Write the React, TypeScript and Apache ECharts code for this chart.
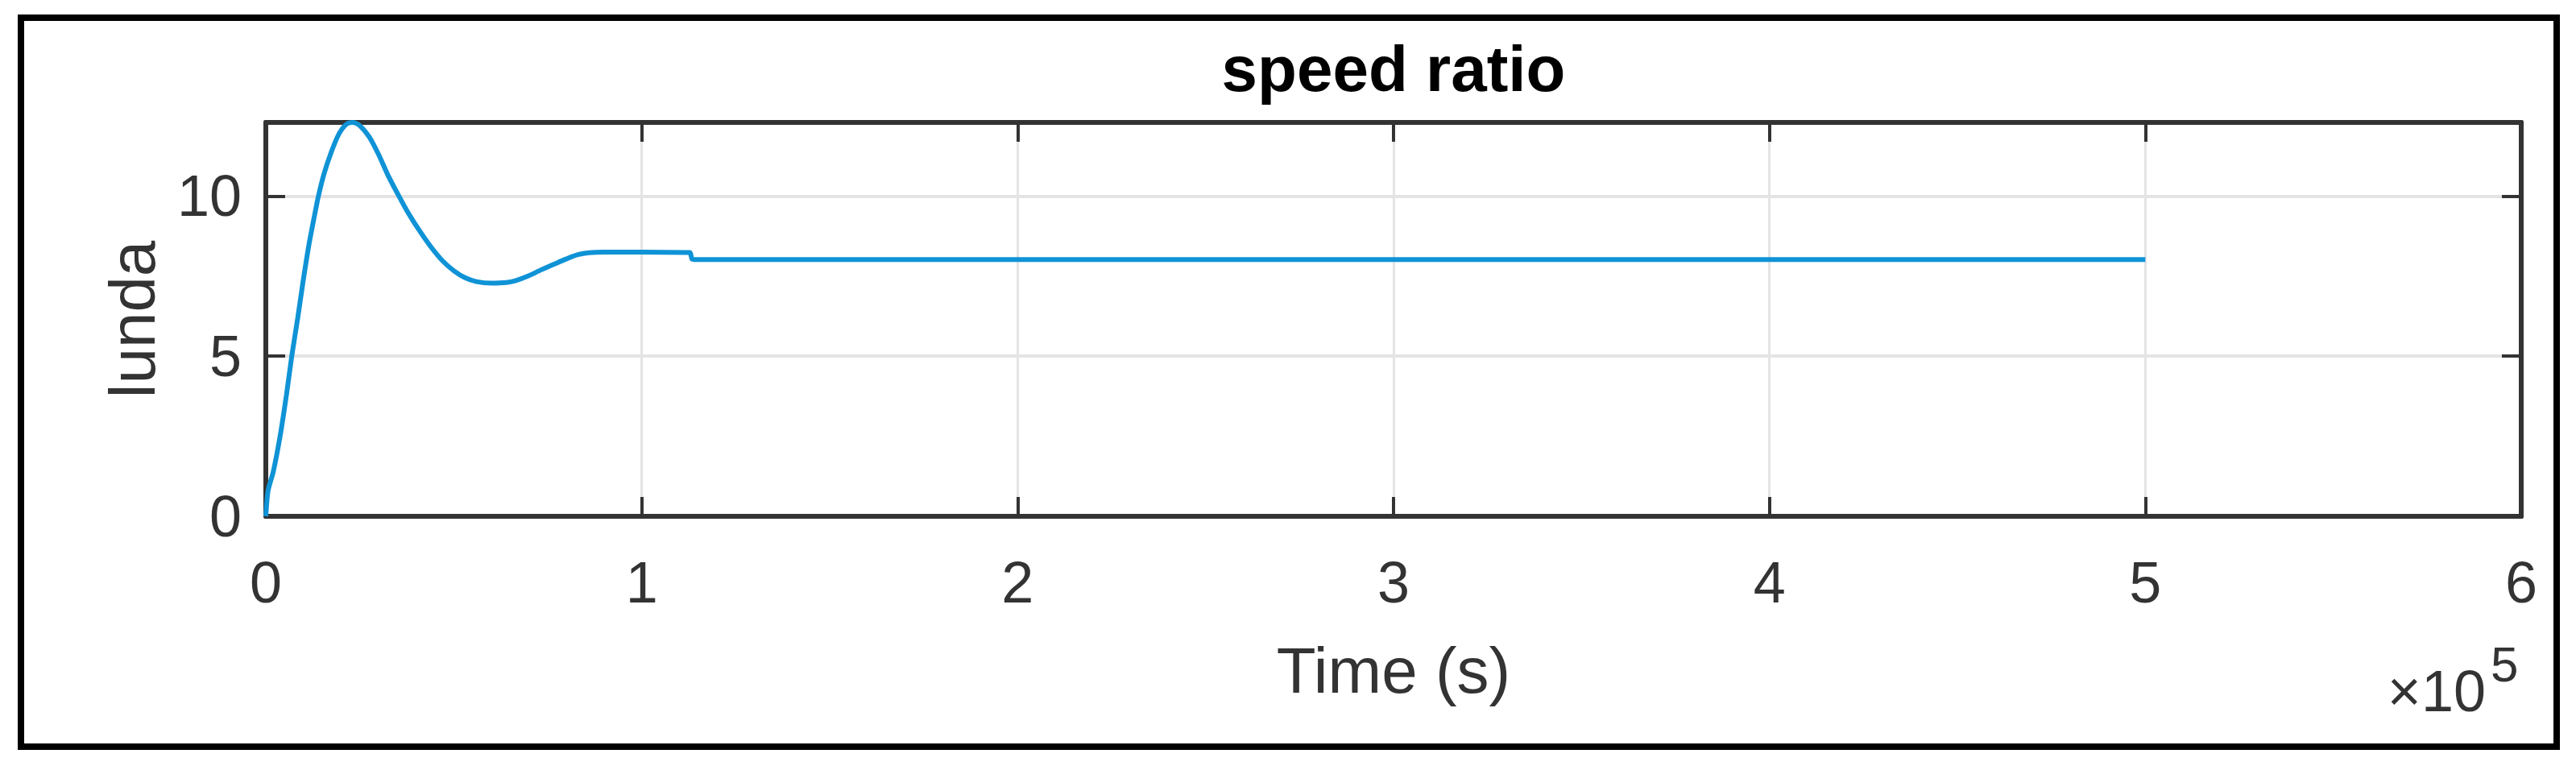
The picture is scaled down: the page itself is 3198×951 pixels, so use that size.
import React, { useEffect, useRef } from "react";
import * as echarts from "echarts";

// Time in seconds
const timeSeconds = [
  0, 600, 2000, 3800, 5500, 6900, 8500, 10000, 11500, 12800,
  14000, 15500, 17500, 19500, 21500, 23200, 25000, 27500, 30000, 32500,
  35400, 38000, 41000, 44000, 47000, 50000, 53000, 56000, 60000, 64000,
  66500, 69700, 73300, 76800, 80000, 83000, 86000, 90000, 100000, 112000,
  112800, 113400, 114000, 200000, 300000, 400000, 500000,
];
// speed ratio (lunda)
const lundaValues = [
  0, 0.8, 1.4, 2.5, 3.8, 5.0, 6.2, 7.4, 8.5, 9.3,
  10.0, 10.7, 11.4, 11.95, 12.25, 12.3, 12.2, 11.85, 11.3, 10.65,
  10.0, 9.45, 8.9, 8.4, 7.98, 7.67, 7.45, 7.33, 7.28, 7.3,
  7.36, 7.5, 7.7, 7.88, 8.04, 8.17, 8.23, 8.25, 8.25, 8.24,
  8.24, 8.03, 8.02, 8.02, 8.02, 8.02, 8.02,
];
const xTickLabels = ["0", "1", "2", "3", "4", "5", "6"];
const yTickValues = [0, 5, 10];
const titleText = "speed ratio";
const xAxisName = "Time (s)";
const yAxisName = "lunda";
const exponentBase = "×10";
const exponentPower = "5";

export default function App() {
  const ref = useRef<HTMLDivElement>(null);
  useEffect(() => {
    const chart = echarts.init(ref.current!, null, { renderer: "svg" });
    const font = '"Liberation Sans", Arial, Helvetica, sans-serif';
    const axisColor = "#333333";
    const gridColor = "#e4e4e4";
    const xMin = 0;
    const xMax = 600000;
    const xStep = 100000;
    const yMin = 0;
    const yMax = 12.3;
    const lineAxis = { show: true, onZero: false, lineStyle: { color: axisColor, width: 6 } };
    const tick = { show: true, inside: true, length: 24, lineStyle: { color: axisColor, width: 4 } };
    const data = timeSeconds.map((t, i) => [t, lundaValues[i]]);

    chart.setOption({
      animation: false,
      backgroundColor: "#ffffff",
      title: {
        text: titleText,
        left: 1730,
        top: 45,
        textAlign: "center",
        padding: 0,
        textStyle: { fontSize: 80, fontWeight: "bold", color: "#000", fontFamily: font },
      },
      grid: { left: 330, right: 68, top: 152, bottom: 310 },
      xAxis: [
        {
          type: "value",
          min: xMin,
          max: xMax,
          interval: xStep,
          position: "bottom",
          axisLine: lineAxis,
          axisTick: tick,
          axisLabel: {
            margin: 46,
            fontSize: 72,
            color: axisColor,
            fontFamily: font,
            formatter: (v: number) => xTickLabels[Math.round(v / xStep)] ?? "",
          },
          splitLine: { show: true, lineStyle: { color: gridColor, width: 3 } },
          name: xAxisName,
          nameLocation: "middle",
          nameGap: 151,
          nameTextStyle: { fontSize: 80, color: axisColor, fontFamily: font },
        },
        {
          type: "value",
          min: xMin,
          max: xMax,
          interval: xStep,
          position: "top",
          axisLine: lineAxis,
          axisTick: tick,
          axisLabel: { show: false },
          splitLine: { show: false },
        },
      ],
      yAxis: [
        {
          type: "value",
          min: yMin,
          max: yMax,
          interval: 5,
          position: "left",
          axisLine: lineAxis,
          axisTick: tick,
          axisLabel: {
            margin: 30,
            fontSize: 72,
            color: axisColor,
            fontFamily: font,
            showMaxLabel: false,
            formatter: (v: number) => (yTickValues.includes(v) ? String(v) : ""),
          },
          splitLine: { show: true, lineStyle: { color: gridColor, width: 4 } },
          name: yAxisName,
          nameLocation: "middle",
          nameGap: 126,
          nameTextStyle: { fontSize: 80, color: axisColor, fontFamily: font },
        },
        {
          type: "value",
          min: yMin,
          max: yMax,
          interval: 5,
          position: "right",
          axisLine: lineAxis,
          axisTick: tick,
          axisLabel: { show: false },
          splitLine: { show: false },
        },
      ],
      series: [
        {
          type: "line",
          xAxisIndex: 0,
          yAxisIndex: 0,
          data,
          showSymbol: false,
          smooth: 0.25,
          lineStyle: { color: "#0f93d6", width: 6 },
          z: 3,
        },
      ],
      graphic: [
        {
          type: "rect",
          silent: true,
          shape: { x: 26, y: 22, width: 3148, height: 905 },
          style: { fill: "none", stroke: "#000", lineWidth: 8 },
        },
        {
          type: "text",
          silent: true,
          x: 3086,
          y: 858,
          style: {
            text: exponentBase,
            fontSize: 72,
            fontFamily: font,
            fill: axisColor,
            align: "right",
            verticalAlign: "middle",
          },
        },
        {
          type: "text",
          silent: true,
          x: 3092,
          y: 824,
          style: {
            text: exponentPower,
            fontSize: 62,
            fontFamily: font,
            fill: axisColor,
            align: "left",
            verticalAlign: "middle",
          },
        },
      ],
    });
    return () => chart.dispose();
  }, []);
  return (
    <div
      ref={ref}
      style={{ position: "fixed", left: 0, top: 0, width: 3198, height: 951, background: "#fff" }}
    />
  );
}
